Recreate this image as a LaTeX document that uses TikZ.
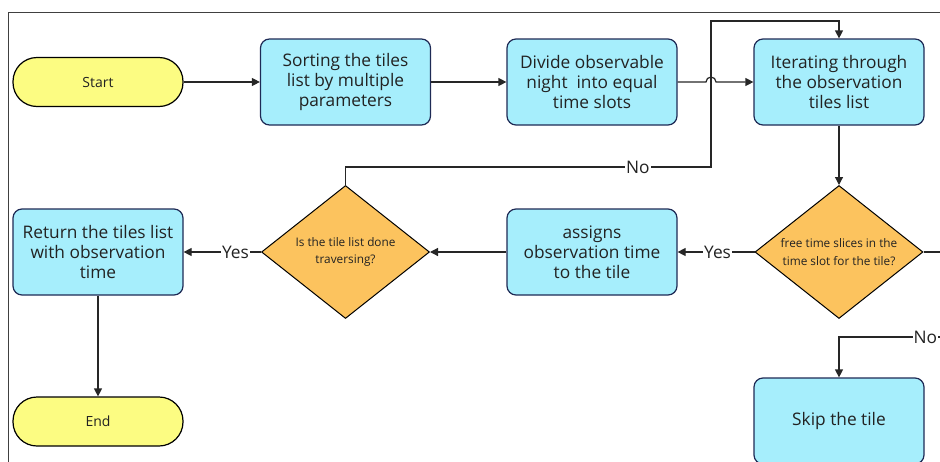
\documentclass[tikz,border=0pt]{standalone}
\usepackage{fontspec}
\setmainfont{Open Sans}
\usetikzlibrary{shapes.geometric,arrows.meta}
\definecolor{boxfill}{HTML}{A6EEFC}
\definecolor{boxline}{HTML}{1E2A55}
\definecolor{dfill}{HTML}{FCC35E}
\definecolor{yfill}{HTML}{FCFC82}
\definecolor{txt}{HTML}{222222}
\tikzset{
  procbox/.style={draw=boxline, fill=boxfill, line width=1.2pt, rounded corners=9pt,
    minimum width=170pt, minimum height=86pt, align=center, text=txt,
    font=\fontsize{17.3pt}{20pt}\selectfont, inner sep=2pt},
  term/.style={draw=black, fill=yfill, line width=1.2pt, rounded corners=24pt,
    minimum width=170pt, minimum height=49pt, align=center, text=txt,
    font=\fontsize{14pt}{16pt}\selectfont},
  decide/.style={diamond, draw=black, fill=dfill, line width=1pt, aspect=1.26,
    minimum width=168pt, minimum height=133pt, inner sep=0pt, align=center, text=txt,
    font=\fontsize{11.8pt}{17.5pt}\selectfont},
  conn/.style={draw=black!85, line width=1.2pt},
  arr/.style={conn, -{Triangle[length=8pt,width=8pt]}},
  lbl/.style={fill=white, inner sep=1pt, text=txt, font=\fontsize{17.3pt}{18pt}\selectfont},
  frame/.style={draw=black!75, line width=1pt}
}
\begin{document}
\begin{tikzpicture}[x=1pt,y=-1pt]
\useasboundingbox (0,0) rectangle (940,461);
\clip (0,0) rectangle (940,461);
\draw[frame] (8,470) -- (8,12) -- (960,12);

\node[term] (start) at (98,82) {Start};
\node[procbox] (sort) at (345.5,82) {Sorting the tiles\\list by multiple\\parameters};
\node[procbox] (divide) at (592,82) {Divide observable\\night\ \ into equal\\time slots};
\node[procbox] (iter) at (839,82) {Iterating through\\the observation\\tiles list};
\node[decide] (free) at (839,252) {free time slices in the\\time slot for the tile?};
\node[procbox] (assign) at (592,252) {assigns\\observation time\\to the tile};
\node[decide] (done) at (345.5,252) {Is the tile list done\\traversing?};
\node[procbox] (ret) at (98,252) {Return the tiles list\\with observation\\time};
\node[term] (end) at (98,421.5) {End};
\node[procbox] (skip) at (839,421) {Skip the tile};

\coordinate (n1) at (345.5,167);
\coordinate (n2) at (711,167);
\coordinate (n3) at (711,21);
\coordinate (n4) at (839,21);
\coordinate (h1) at (706,82);
\coordinate (r1) at (965,252);
\coordinate (r2) at (965,337);
\coordinate (r3) at (839,337);

\draw[arr] (start) -- (sort);
\draw[arr] (sort) -- (divide);
\draw[arr] (divide.east) -- (h1) arc[start angle=180,end angle=0,radius=5pt] -- (iter.west);
\draw[arr] (iter) -- (free);
\draw[arr] (free.west) -- node[lbl, pos=0.48] (yes1) {Yes} (assign.east);
\draw[arr] (assign.west) -- (done.east);
\draw[arr] (done.west) -- node[lbl, pos=0.33] (yes2) {Yes} (ret.east);
\draw[arr] (ret) -- (end);
\draw[arr] (done.north) -- (n1) -- node[lbl, pos=0.80] (no1) {No} (n2) -- (n3) -- (n4) -- (iter.north);
\draw[conn] (free.east) -- (r1) -- (r2);
\draw[arr] (r2) -- node[lbl, pos=0.315] (no2) {No} (r3) -- (skip.north);
\end{tikzpicture}
\end{document}
